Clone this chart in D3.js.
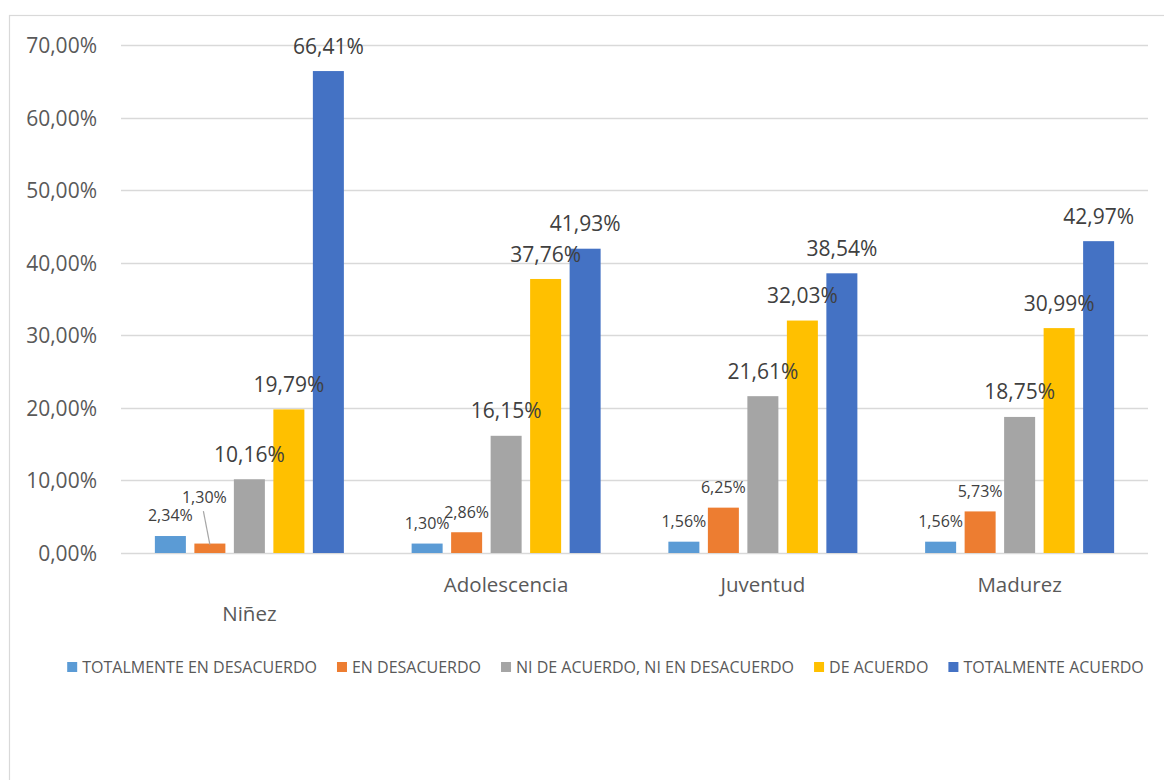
<!DOCTYPE html>
<html>
<head>
<meta charset="utf-8">
<script src="https://cdn.jsdelivr.net/npm/d3@7"></script>
<style>
  html, body { margin: 0; padding: 0; background: #fff; }
  svg { display: block; font-family: "Open Sans", "Noto Sans", sans-serif; }
</style>
</head>
<body>
<svg id="chart" width="1164" height="780"></svg>
<script>
// Life stages (categories) and the response scale (series)
const categories = ["Niñez", "Adolescencia", "Juventud", "Madurez"];
const seriesNames = [
  "TOTALMENTE EN DESACUERDO",
  "EN DESACUERDO",
  "NI DE ACUERDO, NI EN DESACUERDO",
  "DE ACUERDO",
  "TOTALMENTE ACUERDO"
];
const seriesColors = ["#5B9BD5", "#ED7D31", "#A5A5A5", "#FFC000", "#4472C4"];

// Percentages per life stage, one array per response
const totalmenteEnDesacuerdo = [2.34, 1.30, 1.56, 1.56];
const enDesacuerdo           = [1.30, 2.86, 6.25, 5.73];
const niDeAcuerdoNiEnDes     = [10.16, 16.15, 21.61, 18.75];
const deAcuerdo              = [19.79, 37.76, 32.03, 30.99];
const totalmenteAcuerdo      = [66.41, 41.93, 38.54, 42.97];
const seriesValues = [totalmenteEnDesacuerdo, enDesacuerdo, niDeAcuerdoNiEnDes, deAcuerdo, totalmenteAcuerdo];

// Y axis ticks (percent)
const yTicks = [0, 10, 20, 30, 40, 50, 60, 70];

const svg = d3.select("#chart");
const textColor = "#595959";
const gridColor = "#D9D9D9";

// Comma as decimal separator
const locale = d3.formatLocale({ decimal: ",", thousands: ".", grouping: [3], currency: ["", "€"] });
const fmt = locale.format(".2f");
const pct = v => fmt(v) + "%";

// Chart frame
svg.append("rect")
  .attr("x", 9.5).attr("y", 15.5)
  .attr("width", 1170).attr("height", 800)
  .attr("fill", "none").attr("stroke", gridColor).attr("stroke-width", 1.2);

// Scales
const plot = { left: 121, right: 1148, top: 45, bottom: 553 };
const y = d3.scaleLinear().domain([0, 70]).range([plot.bottom, plot.top]);
const x0 = d3.scaleBand().domain(categories).range([plot.left, plot.right]).padding(0);
const clusterWidth = 189;
const x1 = d3.scaleBand().domain(seriesNames).range([0, clusterWidth]).paddingInner(0.215).paddingOuter(0);
const groupStart = c => x0(c) + (x0.bandwidth() - clusterWidth) / 2;

// Gridlines
svg.append("g").selectAll("line").data(yTicks).join("line")
  .attr("x1", plot.left).attr("x2", plot.right)
  .attr("y1", d => Math.round(y(d)) + 0.5).attr("y2", d => Math.round(y(d)) + 0.5)
  .attr("stroke", gridColor).attr("stroke-width", 1.3);

// Y axis labels
const yAxis = d3.axisLeft(y).tickValues(yTicks).tickFormat(d => pct(d)).tickSize(0).tickPadding(0);
const yg = svg.append("g").attr("transform", "translate(97,0)").call(yAxis);
yg.select(".domain").remove();
yg.selectAll("text")
  .attr("fill", textColor).attr("font-size", 21)
  .attr("font-family", "'Open Sans', sans-serif")
  .attr("dy", "0.36em");

// Category labels (first one sits one line lower)
const catLabelY = [621, 592, 592, 592];
svg.append("g").selectAll("text").data(categories).join("text")
  .attr("x", c => x0(c) + x0.bandwidth() / 2)
  .attr("y", (c, i) => catLabelY[i])
  .attr("text-anchor", "middle")
  .attr("fill", textColor).attr("font-size", 20.5)
  .text(c => c);

// Flatten into bar records
const bars = [];
seriesNames.forEach((s, si) => {
  categories.forEach((c, ci) => {
    bars.push({ series: s, si, cat: c, ci, value: seriesValues[si][ci] });
  });
});

svg.append("g").selectAll("rect").data(bars).join("rect")
  .attr("x", d => groupStart(d.cat) + x1(d.series))
  .attr("width", x1.bandwidth())
  .attr("y", d => y(d.value))
  .attr("height", d => y(0) - y(d.value))
  .attr("fill", d => seriesColors[d.si]);

// Data labels: larger type for values of 10% and up
const labelShift = { "1-0": { dx: -5.5, dy: -26 } };
const labelPos = d => {
  const small = d.value < 10;
  const cx = groupStart(d.cat) + x1(d.series) + x1.bandwidth() / 2;
  const top = y(d.value);
  const shift = labelShift[d.si + "-" + d.ci] || { dx: 0, dy: 0 };
  const centerY = top - (small ? 20.5 : 25) + shift.dy;
  return { small, x: cx + shift.dx, cy: centerY, cx, top, shifted: !!labelShift[d.si + "-" + d.ci] };
};

// Leader line for the displaced label
svg.append("g").selectAll("line").data(bars.filter(d => labelPos(d).shifted)).join("line")
  .attr("x1", d => labelPos(d).x - 1)
  .attr("y1", d => labelPos(d).cy + 14)
  .attr("x2", d => labelPos(d).cx)
  .attr("y2", d => labelPos(d).top + 1)
  .attr("stroke", "#A6A6A6").attr("stroke-width", 1.2);

svg.append("g").selectAll("text").data(bars).join("text")
  .attr("x", d => labelPos(d).x)
  .attr("y", d => labelPos(d).cy)
  .attr("dy", "0.36em")
  .attr("text-anchor", "middle")
  .attr("fill", d => labelPos(d).small ? "#404040" : "#404040")
  .attr("font-size", d => labelPos(d).small ? 16 : 21)
  .text(d => pct(d.value));

// Legend, centred below the plot
const legend = svg.append("g");
const items = legend.selectAll("g").data(seriesNames).join("g");
items.append("rect")
  .attr("width", 10).attr("height", 10)
  .attr("y", 662)
  .attr("fill", (d, i) => seriesColors[i]);
items.append("text")
  .attr("x", 15).attr("y", 672.5)
  .attr("fill", textColor).attr("font-size", 16)
  .text(d => d);
let cursor = 0;
const widths = [];
items.each(function () {
  widths.push(15 + d3.select(this).select("text").node().getComputedTextLength());
});
const total = d3.sum(widths) + 20 * (widths.length - 1);
cursor = 605.5 - total / 2;
items.attr("transform", (d, i) => {
  const t = `translate(${cursor},0)`;
  cursor += widths[i] + 20;
  return t;
});
</script>
</body>
</html>
